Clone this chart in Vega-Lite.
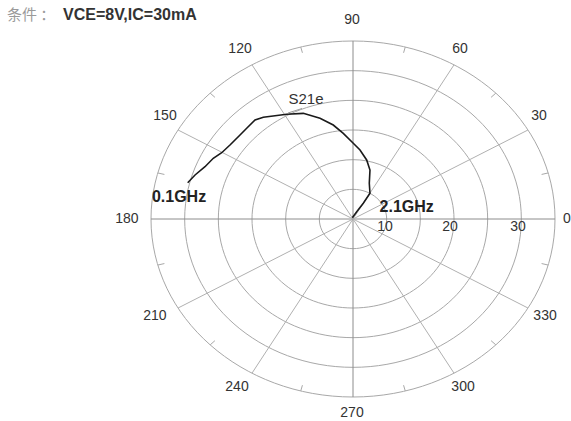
{
  "$schema": "https://vega.github.io/schema/vega-lite/v6.json",
  "width": 404,
  "height": 356,
  "autosize": {"type": "none"},
  "padding": {"left": 151, "top": 41, "right": 16, "bottom": 24},
  "background": "white",
  "config": {"view": {"stroke": null}, "font": "Liberation Sans"},
  "datasets": {
    "rings": [{"r": 5}, {"r": 10}, {"r": 15}, {"r": 20}, {"r": 25}, {"r": 30}],
    "spokes": [
      {"angle": 0, "x": 30, "y": 0, "x2": -30, "y2": 0, "main": "yes"},
      {"angle": 30, "x": 25.98, "y": 15, "x2": -25.98, "y2": -15, "main": "no"},
      {"angle": 60, "x": 15, "y": 25.98, "x2": -15, "y2": -25.98, "main": "no"},
      {"angle": 90, "x": 0, "y": 30, "x2": 0, "y2": -30, "main": "yes"},
      {"angle": 120, "x": -15, "y": 25.98, "x2": 15, "y2": -25.98, "main": "no"},
      {"angle": 150, "x": -25.98, "y": 15, "x2": 25.98, "y2": -15, "main": "no"}
    ],
    "ticks": [
      {"angle": 15, "x": 28.98, "y": 7.76, "x2": 28.01, "y2": 7.51},
      {"angle": 45, "x": 21.21, "y": 21.21, "x2": 20.51, "y2": 20.51},
      {"angle": 75, "x": 7.76, "y": 28.98, "x2": 7.51, "y2": 28.01},
      {"angle": 105, "x": -7.76, "y": 28.98, "x2": -7.51, "y2": 28.01},
      {"angle": 135, "x": -21.21, "y": 21.21, "x2": -20.51, "y2": 20.51},
      {"angle": 165, "x": -28.98, "y": 7.76, "x2": -28.01, "y2": 7.51},
      {"angle": 195, "x": -28.98, "y": -7.76, "x2": -28.01, "y2": -7.51},
      {"angle": 225, "x": -21.21, "y": -21.21, "x2": -20.51, "y2": -20.51},
      {"angle": 255, "x": -7.76, "y": -28.98, "x2": -7.51, "y2": -28.01},
      {"angle": 285, "x": 7.76, "y": -28.98, "x2": 7.51, "y2": -28.01},
      {"angle": 315, "x": 21.21, "y": -21.21, "x2": 20.51, "y2": -20.51},
      {"angle": 345, "x": 28.98, "y": -7.76, "x2": 28.01, "y2": -7.51}
    ],
    "s21": [
      {"i": 1, "x": -24.55, "y": 6.12},
      {"i": 2, "x": -23.46, "y": 7.42},
      {"i": 3, "x": -21.98, "y": 8.81},
      {"i": 4, "x": -20.75, "y": 10.23},
      {"i": 5, "x": -19.5, "y": 11.17},
      {"i": 6, "x": -18.27, "y": 12.47},
      {"i": 7, "x": -16.78, "y": 14.16},
      {"i": 8, "x": -15.79, "y": 15.29},
      {"i": 9, "x": -14.55, "y": 16.68},
      {"i": 10, "x": -13.32, "y": 17.14},
      {"i": 11, "x": -11.58, "y": 17.41},
      {"i": 12, "x": -9.85, "y": 17.65},
      {"i": 13, "x": -7.38, "y": 17.81},
      {"i": 14, "x": -4.9, "y": 16.97},
      {"i": 15, "x": -2.93, "y": 15.84},
      {"i": 16, "x": -1.44, "y": 14.44},
      {"i": 17, "x": 0.04, "y": 12.76},
      {"i": 18, "x": 1.04, "y": 11.63},
      {"i": 19, "x": 2.03, "y": 9.95},
      {"i": 20, "x": 2.52, "y": 8.26},
      {"i": 21, "x": 2.42, "y": 6.02},
      {"i": 22, "x": 2.52, "y": 4.33},
      {"i": 23, "x": 1.53, "y": 2.65},
      {"i": 24, "x": 0.55, "y": 1.23},
      {"i": 25, "x": -0.1, "y": 0.22}
    ],
    "angleLabels": [
      {"label": "0", "x": 31.78, "y": 0.08},
      {"label": "30", "x": 27.63, "y": 17.44},
      {"label": "60", "x": 15.89, "y": 28.65},
      {"label": "90", "x": -0.15, "y": 33.54},
      {"label": "120", "x": -16.78, "y": 28.65},
      {"label": "150", "x": -27.92, "y": 17.44},
      {"label": "180", "x": -33.57, "y": 0.08},
      {"label": "210", "x": -29.41, "y": -16.35},
      {"label": "240", "x": -17.23, "y": -28.32},
      {"label": "270", "x": -0.15, "y": -32.7},
      {"label": "300", "x": 16.34, "y": -28.32},
      {"label": "330", "x": 28.52, "y": -16.35}
    ],
    "ringLabels": [
      {"label": "10", "x": 4.75, "y": -1.43},
      {"label": "20", "x": 14.41, "y": -1.43},
      {"label": "30", "x": 24.51, "y": -1.43}
    ],
    "freqLabels": [
      {"label": "0.1GHz", "x": -25.84, "y": 3.76},
      {"label": "2.1GHz", "x": 7.98, "y": 2.07}
    ],
    "seriesLabel": [{"label": "S21e", "x": -6.98, "y": 20.23}],
    "leader": [{"x": -9.65, "y": 17.87, "x2": -7.57, "y2": 18.62}],
    "condLabel": [{"label": "条件 ：", "x": -51.39, "y": 34.38}],
    "condValue": [{"label": "VCE=8V,IC=30mA", "x": -43.07, "y": 34.38}]
  },
  "layer": [
    {
      "data": {"name": "rings"},
      "mark": {
        "type": "point",
        "filled": false,
        "stroke": "#a8a8a8",
        "opacity": 1,
        "strokeWidth": 1,
        "shape": "M 1 0 C 1 0.4867 0.5523 0.8812 0 0.8812 C -0.5523 0.8812 -1 0.4867 -1 0 C -1 -0.4867 -0.5523 -0.8812 0 -0.8812 C 0.5523 -0.8812 1 -0.4867 1 0 Z"
      },
      "encoding": {
        "x": {"datum": 0, "type": "quantitative", "scale": {"domain": [-30, 30]}, "axis": null},
        "y": {"datum": 0, "type": "quantitative", "scale": {"domain": [-30, 30]}, "axis": null},
        "size": {"field": "r", "type": "quantitative", "scale": {"type": "pow", "exponent": 2, "domain": [0, 30], "range": [0, 163216]}, "legend": null}
      }
    },
    {
      "data": {"name": "spokes"},
      "mark": {"type": "rule", "strokeWidth": 1},
      "encoding": {
        "x": {"field": "x", "type": "quantitative"},
        "y": {"field": "y", "type": "quantitative"},
        "x2": {"field": "x2"},
        "y2": {"field": "y2"},
        "color": {"field": "main", "type": "nominal", "scale": {"domain": ["yes", "no"], "range": ["#8c8c8c", "#b0b0b0"]}, "legend": null}
      }
    },
    {
      "data": {"name": "ticks"},
      "mark": {"type": "rule", "strokeWidth": 1, "color": "#a8a8a8"},
      "encoding": {
        "x": {"field": "x", "type": "quantitative"},
        "y": {"field": "y", "type": "quantitative"},
        "x2": {"field": "x2"},
        "y2": {"field": "y2"}
      }
    },
    {
      "data": {"name": "s21"},
      "mark": {"type": "line", "color": "#1a1a1a", "strokeWidth": 1.6},
      "encoding": {
        "x": {"field": "x", "type": "quantitative"},
        "y": {"field": "y", "type": "quantitative"},
        "order": {"field": "i", "type": "quantitative"}
      }
    },
    {
      "data": {"name": "leader"},
      "mark": {"type": "rule", "strokeWidth": 1, "color": "#999999"},
      "encoding": {
        "x": {"field": "x", "type": "quantitative"},
        "y": {"field": "y", "type": "quantitative"},
        "x2": {"field": "x2"},
        "y2": {"field": "y2"}
      }
    },
    {
      "data": {"name": "angleLabels"},
      "mark": {"type": "text", "fontSize": 14, "color": "#333333", "align": "center", "baseline": "middle"},
      "encoding": {
        "x": {"field": "x", "type": "quantitative"},
        "y": {"field": "y", "type": "quantitative"},
        "text": {"field": "label"}
      }
    },
    {
      "data": {"name": "ringLabels"},
      "mark": {"type": "text", "fontSize": 14, "color": "#333333", "align": "center", "baseline": "middle"},
      "encoding": {
        "x": {"field": "x", "type": "quantitative"},
        "y": {"field": "y", "type": "quantitative"},
        "text": {"field": "label"}
      }
    },
    {
      "data": {"name": "freqLabels"},
      "mark": {"type": "text", "fontSize": 16, "fontWeight": "bold", "color": "#222222", "align": "center", "baseline": "middle"},
      "encoding": {
        "x": {"field": "x", "type": "quantitative"},
        "y": {"field": "y", "type": "quantitative"},
        "text": {"field": "label"}
      }
    },
    {
      "data": {"name": "seriesLabel"},
      "mark": {"type": "text", "fontSize": 15, "color": "#333333", "align": "center", "baseline": "middle"},
      "encoding": {
        "x": {"field": "x", "type": "quantitative"},
        "y": {"field": "y", "type": "quantitative"},
        "text": {"field": "label"}
      }
    },
    {
      "data": {"name": "condLabel"},
      "mark": {"type": "text", "fontSize": 15, "font": "Noto Sans CJK SC", "color": "#9a9a9a", "align": "left", "baseline": "middle"},
      "encoding": {
        "x": {"field": "x", "type": "quantitative"},
        "y": {"field": "y", "type": "quantitative"},
        "text": {"field": "label"}
      }
    },
    {
      "data": {"name": "condValue"},
      "mark": {"type": "text", "fontSize": 16, "fontWeight": "bold", "color": "#333333", "align": "left", "baseline": "middle"},
      "encoding": {
        "x": {"field": "x", "type": "quantitative"},
        "y": {"field": "y", "type": "quantitative"},
        "text": {"field": "label"}
      }
    }
  ]
}
